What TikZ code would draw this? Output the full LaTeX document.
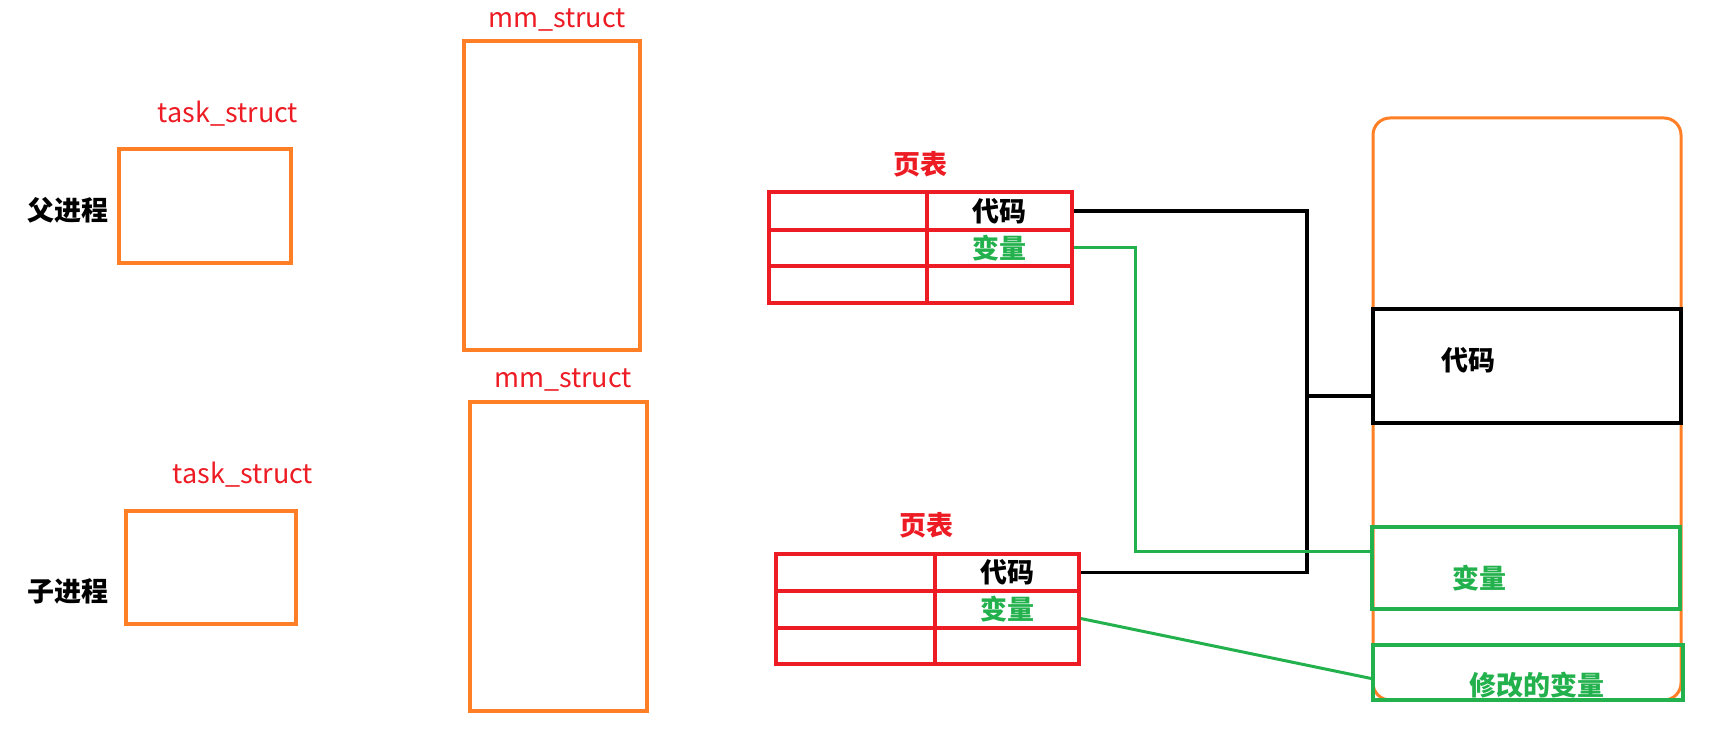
\documentclass[tikz,border=0pt]{standalone}
\usepackage{fontspec}
\setmainfont{Noto Sans CJK SC}
\definecolor{orng}{HTML}{FF7F27}
\definecolor{rd}{HTML}{ED1C24}
\definecolor{grn}{HTML}{22B14C}
\tikzset{
  obox/.style={draw=orng, line width=3.5pt, inner sep=0pt},
  cell/.style={draw=rd, line width=3.5pt, inner sep=0pt, font=\fontsize{27}{27}\selectfont\bfseries},
  blk/.style={draw=black, line width=3.5pt},
  gline/.style={draw=grn, line width=3pt},
  rlabel/.style={text=rd, font=\fontsize{27}{27}\selectfont, inner sep=0pt},
  cjklabel/.style={font=\fontsize{27}{27}\selectfont\bfseries, inner sep=0pt},
}
\begin{document}
\begin{tikzpicture}[x=1pt,y=-1pt]
\useasboundingbox (0,0) rectangle (1733,735);
% left side
\node[cjklabel] (fu) at (68,210) {父进程};
\node[cjklabel] (zi) at (68,591) {子进程};
\node[obox, minimum width=172pt, minimum height=114pt] (ts1) at (205,206) {};
\node[obox, minimum width=170pt, minimum height=113pt] (ts2) at (211,567.5) {};
\node[rlabel] (ts1l) at (228,114) {task\_struct};
\node[rlabel] (ts2l) at (243,475) {task\_struct};
\node[obox, minimum width=176pt, minimum height=309pt] (mm1) at (552,195.5) {};
\node[obox, minimum width=177pt, minimum height=309pt] (mm2) at (558.5,556.5) {};
\node[rlabel] (mm1l) at (557,20) {mm\_struct};
\node[rlabel] (mm2l) at (563,380) {mm\_struct};
% page table 1
\node[cjklabel, text=rd] (pt1) at (920,164) {页表};
\node[cell, minimum width=158pt, minimum height=38pt] (t1a) at (848,211) {};
\node[cell, minimum width=158pt, minimum height=36pt] (t1b) at (848,248) {};
\node[cell, minimum width=158pt, minimum height=37pt] (t1c) at (848,284.5) {};
\node[cell, minimum width=145pt, minimum height=38pt] (t1code) at (999.5,211) {代码};
\node[cell, minimum width=145pt, minimum height=36pt, text=grn] (t1var) at (999.5,248) {变量};
\node[cell, minimum width=145pt, minimum height=37pt] (t1e) at (999.5,284.5) {};
% page table 2
\node[cjklabel, text=rd] (pt2) at (926,525) {页表};
\node[cell, minimum width=159pt, minimum height=37pt] (t2a) at (855.5,572.5) {};
\node[cell, minimum width=159pt, minimum height=37pt] (t2b) at (855.5,609.5) {};
\node[cell, minimum width=159pt, minimum height=36pt] (t2c) at (855.5,646) {};
\node[cell, minimum width=144pt, minimum height=37pt] (t2code) at (1007,572.5) {代码};
\node[cell, minimum width=144pt, minimum height=37pt, text=grn] (t2var) at (1007,609.5) {变量};
\node[cell, minimum width=144pt, minimum height=36pt] (t2e) at (1007,646) {};
% memory
\node[draw=orng, line width=3pt, rounded corners=17pt, minimum width=308pt, minimum height=582pt, inner sep=0pt] (mem) at (1527,409) {};
\node[draw=black, line width=3.5pt, minimum width=308pt, minimum height=114pt, inner sep=0pt] (memcode) at (1527,366) {};
\node[cjklabel] (memcodel) at (1468,360) {代码};
\node[draw=grn, line width=3.5pt, minimum width=308pt, minimum height=82pt, inner sep=0pt] (memvar) at (1526,568) {};
\node[cjklabel, text=grn] (memvarl) at (1479,578) {变量};
\node[draw=grn, line width=3.5pt, minimum width=310pt, minimum height=55pt, inner sep=0pt] (memmod) at (1528,672.5) {};
\node[cjklabel, text=grn] (memmodl) at (1537,685) {修改的变量};
% connectors
\coordinate (bus) at (1307,396);
\coordinate (g1) at (1135,551);
\draw[blk] (t1code.east) -| (bus) -- (memcode.west |- bus);
\draw[blk] (t2code.east) -| (bus);
\draw[gline] (t1var.east) -| (g1) -- (g1 -| memvar.west);
\draw[gline] ([yshift=-9pt]t2var.east) -- ([yshift=-6pt]memmod.west);
\end{tikzpicture}
\end{document}
